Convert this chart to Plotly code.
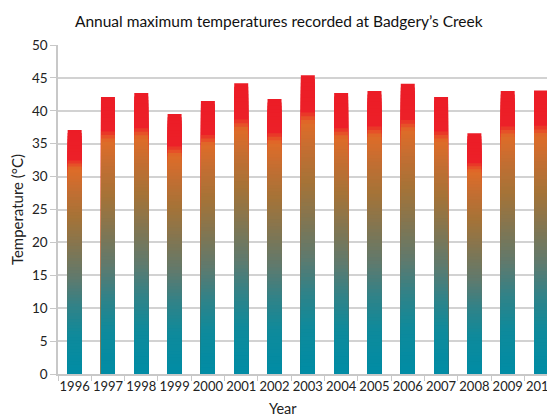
import plotly.graph_objects as go

years = ["1996", "1997", "1998", "1999", "2000", "2001", "2002", "2003",
         "2004", "2005", "2006", "2007", "2008", "2009", "2010"]
max_temp = [37.1, 42.1, 42.7, 39.5, 41.5, 44.2, 41.8, 45.4,
            42.7, 43.0, 44.1, 42.1, 36.6, 43.0, 43.1]
y_ticks = [0, 5, 10, 15, 20, 25, 30, 35, 40, 45, 50]

# gradient stops along each bar's own height (fraction, rgb)
stops = [(0.00, (0, 140, 165)), (0.16, (15, 138, 155)), (0.28, (50, 130, 135)),
         (0.39, (95, 122, 110)), (0.50, (125, 118, 85)), (0.64, (165, 115, 55)),
         (0.75, (195, 110, 50)), (0.84, (223, 108, 40)), (0.86, (231, 75, 40)),
         (0.88, (236, 32, 40)), (1.00, (236, 28, 38))]


def colour_at(f):
    for (f0, c0), (f1, c1) in zip(stops[:-1], stops[1:]):
        if f0 <= f <= f1:
            t = (f - f0) / (f1 - f0) if f1 > f0 else 0
            c = [round(a + (b - a) * t) for a, b in zip(c0, c1)]
            return f"rgb({c[0]},{c[1]},{c[2]})"
    return "rgb(236,28,38)"


N = 80
fig = go.Figure()
for k in range(N):
    f = 1 - k / N
    fig.add_trace(go.Bar(
        x=years, y=[v * f for v in max_temp],
        marker=dict(color=colour_at(f - 0.5 / N), line=dict(width=0)),
        showlegend=False, hoverinfo="skip" if k else "x+y",
    ))

font = "Lato, 'Open Sans', sans-serif"
fig.update_layout(
    width=547, height=408,
    barmode="overlay", bargap=0.58,
    paper_bgcolor="white", plot_bgcolor="white",
    margin=dict(l=50, r=0, t=37, b=42, autoexpand=False),
    font=dict(family=font, size=13, color="#222"),
    title=dict(text="Annual maximum temperatures recorded at Badgery\u2019s Creek",
               x=0.495, xanchor="center", y=0.966, yanchor="middle",
               font=dict(size=15.5, color="#111")),
    annotations=[dict(text="Year", xref="paper", yref="paper", x=0.453, y=-0.106,
                      xanchor="center", yanchor="middle", showarrow=False,
                      font=dict(size=14.5, color="#222"))],
)
fig.update_xaxes(
    range=[-0.5, 14.42], showgrid=False, showline=True, linecolor="#c8c8c8", linewidth=1.5,
    ticks="outside", tickson="boundaries", ticklen=5, tickcolor="#c8c8c8",
    tickfont=dict(size=13, color="#222"), tickangle=0, automargin=False,
)
fig.update_yaxes(
    range=[0, 50], tickvals=y_ticks, showgrid=True, gridcolor="#d2d2d2", gridwidth=1.5,
    showline=True, linecolor="#c8c8c8", linewidth=1.5, ticks="outside", ticklen=6,
    tickcolor="#c8c8c8", tickfont=dict(size=13.5, color="#222"), zeroline=False,
    automargin=False,
    title=dict(text="Temperature (\u00b0C)", font=dict(size=15, color="#222"), standoff=7),
)
fig.write_html("out.html")
